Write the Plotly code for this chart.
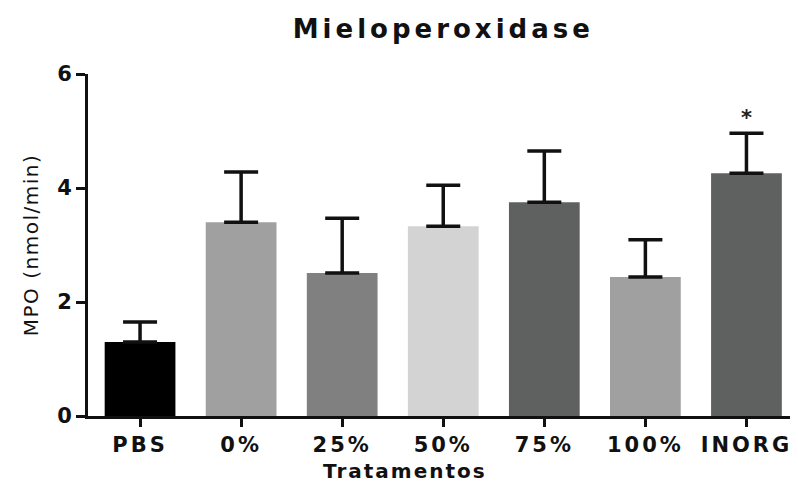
import plotly.graph_objects as go

categories = ["PBS", "0%", "25%", "50%", "75%", "100%", "INORG"]
means = [1.30, 3.40, 2.51, 3.33, 3.75, 2.44, 4.26]
sem = [0.35, 0.88, 0.96, 0.72, 0.90, 0.65, 0.70]
colors = ["#000000", "#a0a0a0", "#808080", "#d3d3d3", "#5f6160", "#a0a0a0", "#5f6160"]
y_ticks = [0, 2, 4, 6]
significance = ["", "", "", "", "", "", "*"]

BOLD = "DejaVu Sans, Arial, sans-serif"
INK = "#111111"


def spaced(text, px, bold=True):
    inner = '<span style="letter-spacing:%spx">%s</span>' % (px, text)
    return "<b>" + inner + "</b>" if bold else inner


fig = go.Figure()
fig.add_trace(go.Bar(
    x=categories, y=means, width=0.70,
    marker=dict(color=colors, line=dict(width=0)),
    error_y=dict(type="data", array=sem, symmetric=False, arrayminus=[0] * len(sem),
                 color=INK, thickness=3.5, width=17),
    showlegend=False,
))

for c, m, s, sig in zip(categories, means, sem, significance):
    if sig:
        fig.add_annotation(x=c, y=m + s, text="<b>" + sig + "</b>", showarrow=False,
                           yshift=15, font=dict(family=BOLD, size=21, color="#222222"))

fig.add_annotation(x=0.447, xref="paper", y=-0.161, yref="paper", yanchor="middle",
                   text=spaced("Tratamentos", 2), showarrow=False,
                   font=dict(family=BOLD, size=20, color=INK))

fig.update_layout(
    width=790, height=475,
    margin=dict(l=80, r=0, t=66, b=67),
    plot_bgcolor="white", paper_bgcolor="white",
    title=dict(text=spaced("Mieloperoxidase", 4), x=0.551, xanchor="center",
               y=0.955, yanchor="middle",
               font=dict(family=BOLD, size=26, color=INK)),
    font=dict(family=BOLD, color=INK),
    bargap=0.3,
)
fig.update_xaxes(
    range=[-0.515, 6.51], showline=True, linecolor=INK, linewidth=3,
    ticks="outside", ticklen=8, tickwidth=3, tickcolor=INK,
    tickvals=categories, ticktext=[spaced(c, 3) for c in categories],
    tickfont=dict(family=BOLD, size=21, color=INK),
    showgrid=False, zeroline=False,
)
fig.update_yaxes(
    range=[0, 6], tickvals=y_ticks, ticktext=["<b>%d</b>" % v for v in y_ticks],
    showline=True, linecolor=INK, linewidth=3,
    ticks="outside", ticklen=9, tickwidth=3, tickcolor=INK,
    tickfont=dict(family=BOLD, size=21, color=INK),
    showgrid=False, zeroline=False,
    title=dict(text=spaced("MPO (nmol/min)", 1.5, bold=False),
               font=dict(family=BOLD, size=20, color=INK), standoff=14),
)

fig.write_html("out.html")
